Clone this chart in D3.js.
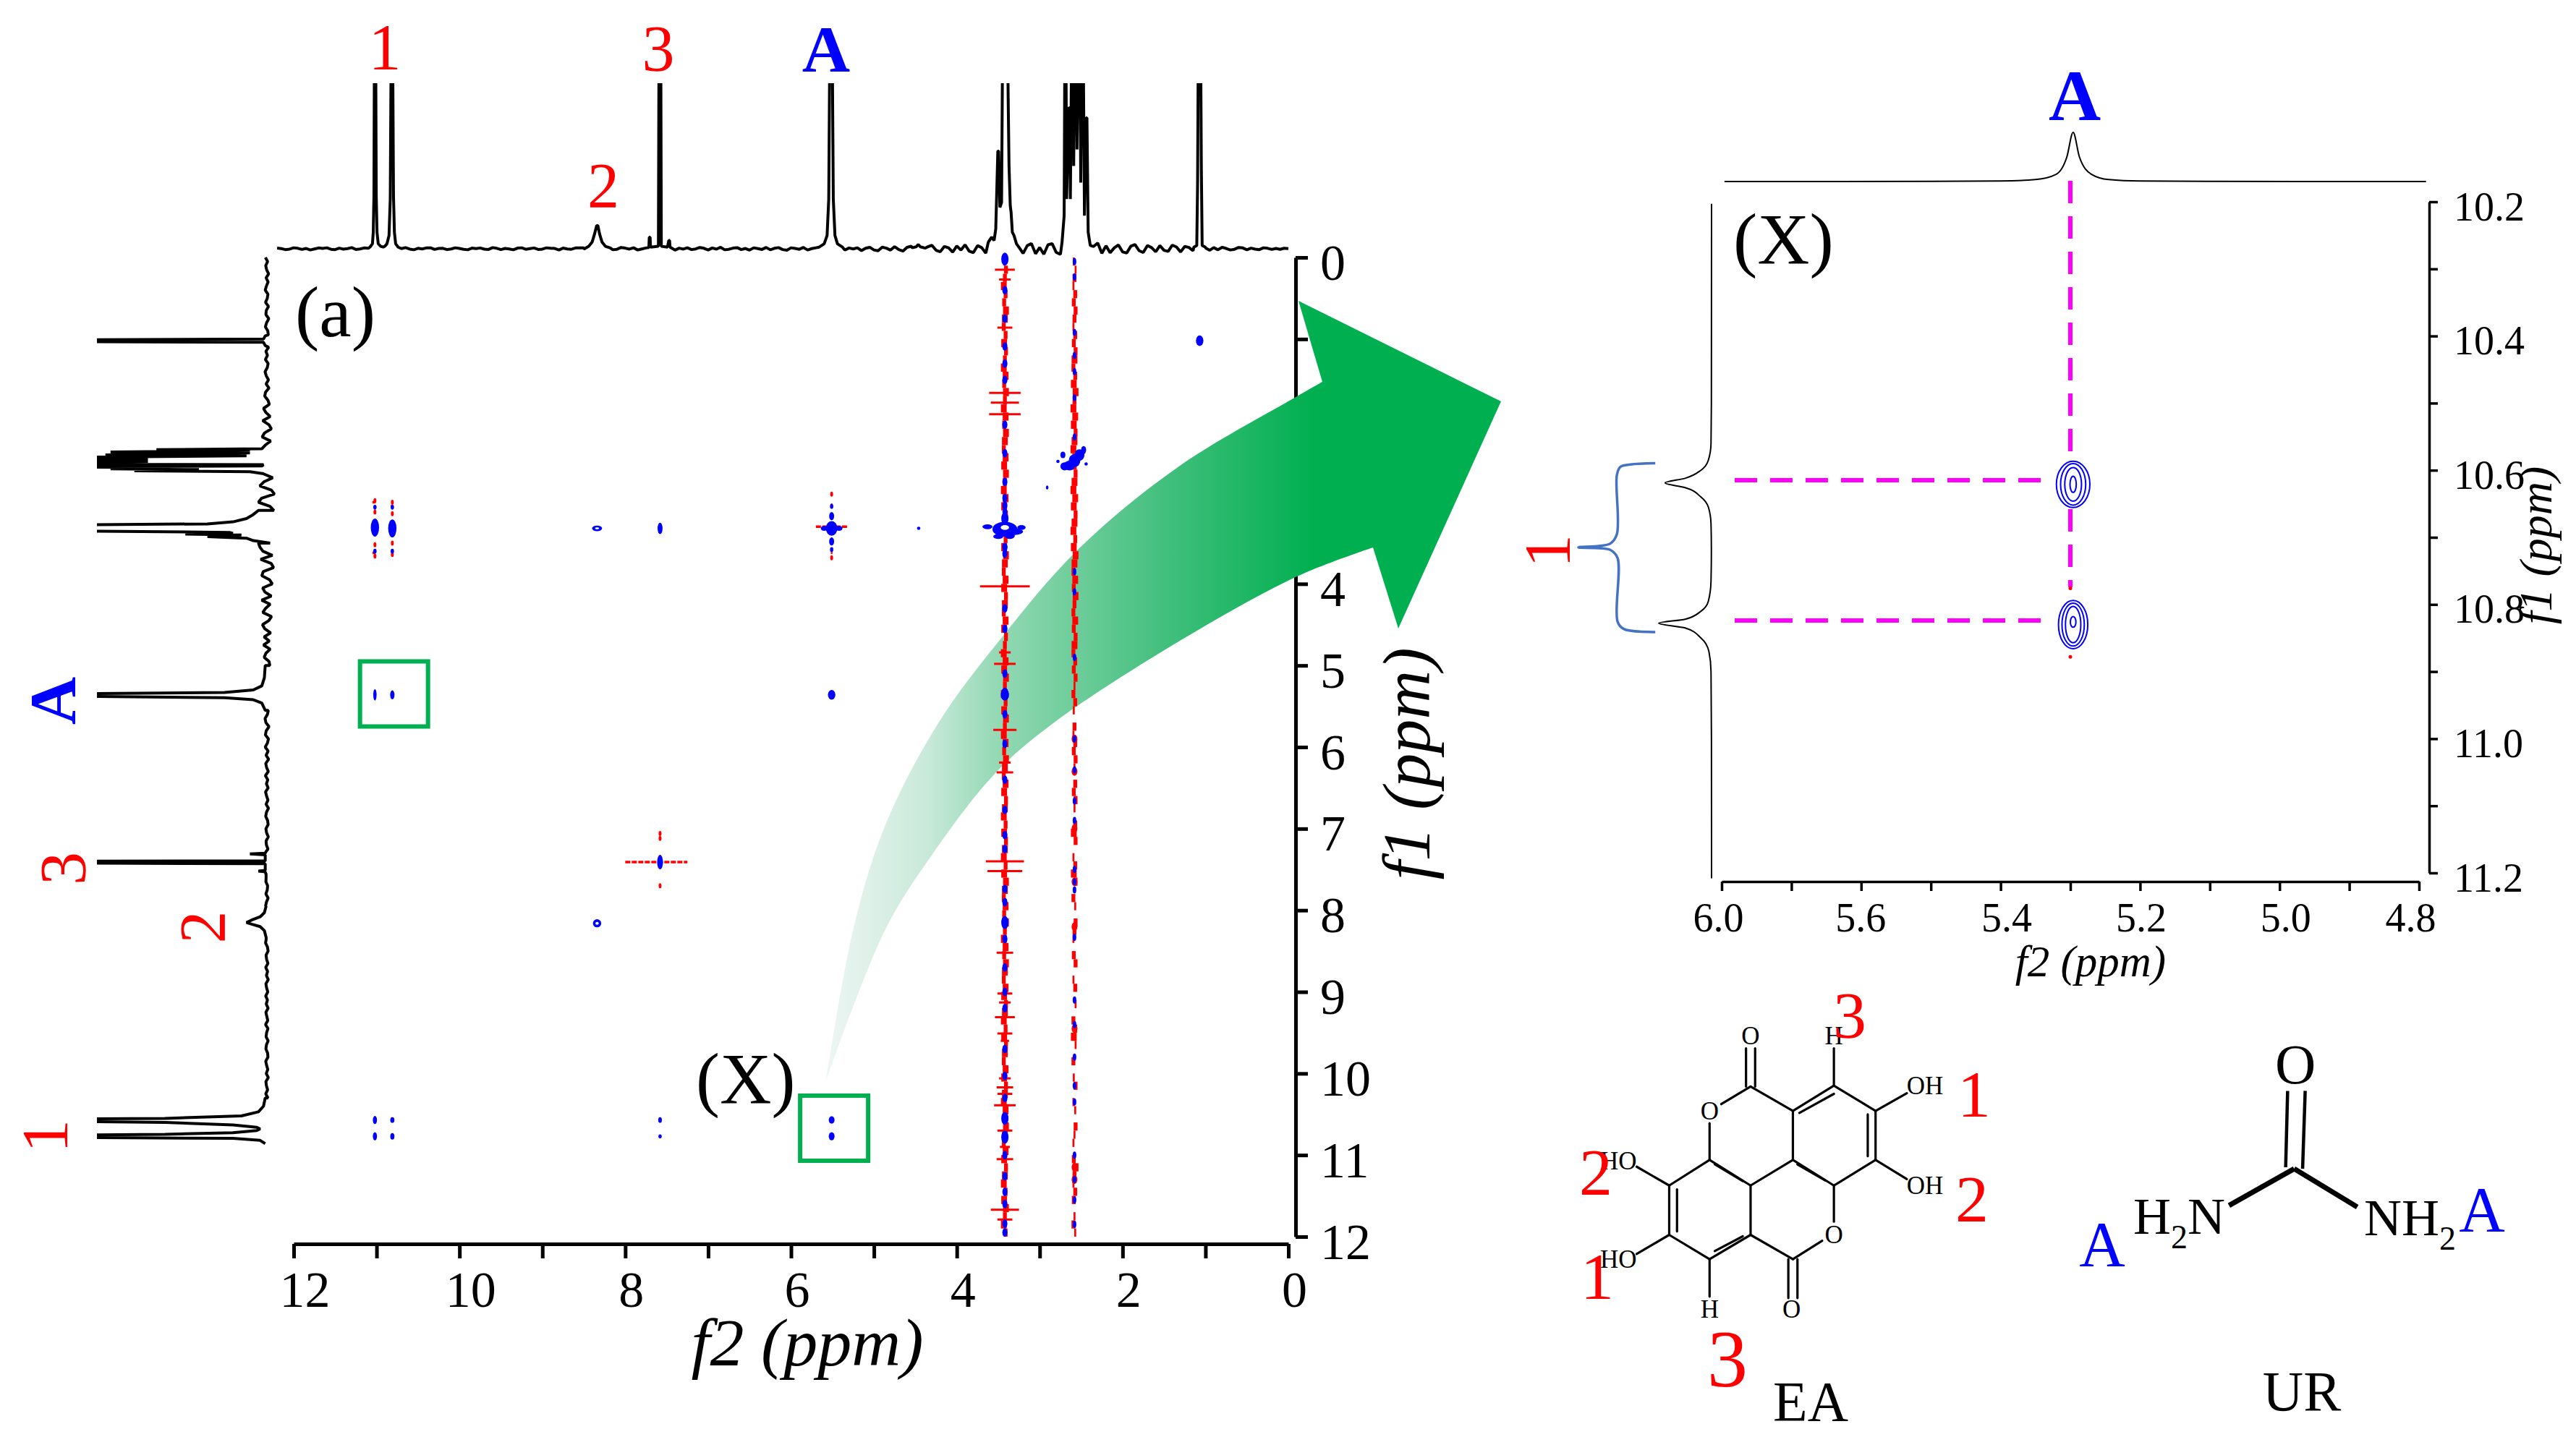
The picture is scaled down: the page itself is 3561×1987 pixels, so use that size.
<!DOCTYPE html>
<html>
<head>
<meta charset="utf-8">
<script src="https://d3js.org/d3.v7.min.js"></script>
<style>
body { margin: 0; background: #fff; }
text { font-family: "Liberation Serif", serif; }
</style>
</head>
<body>
<script>
// main COSY panel ticks
const f2Ticks = [12, 11, 10, 9, 8, 7, 6, 5, 4, 3, 2, 1, 0]
const f1Ticks = [0, 1, 2, 3, 4, 5, 6, 7, 8, 9, 10, 11, 12]

// inset panel ticks, the printed labels skip 5.8 and read 6.0 there
const insetF2Ticks = [5.8, 5.7, 5.6, 5.5, 5.4, 5.3, 5.2, 5.1, 5.0, 4.9, 4.8]
const insetF2Labels = ['6.0', '', '5.6', '', '5.4', '', '5.2', '', '5.0', '', '4.8']
const insetF1Ticks = [10.2, 10.3, 10.4, 10.5, 10.6, 10.7, 10.8, 10.9, 11.0, 11.1, 11.2]
const insetF1Labels = ['10.2', '', '10.4', '', '10.6', '', '10.8', '', '11.0', '', '11.2']

// top 1D trace: baseline noise every 0.05 ppm starting at 12.2 ppm
const topNoiseStart = 12.2
const topNoise = [0.4,0.1,-0.5,-0.2,0.6,0.3,-0.4,0.2,-0.7,-0.1,0.5,0.2,0.6,-0.3,-0.5,0.4,-0.2,0.1,0.7,-0.4,
-0.1,0.5,0.3,-0.6,-0.2,0.2,0.6,0.4,-0.5,-0.3,0.1,0.7,-0.2,-0.6,0.3,-0.1,0.5,0.6,-0.4,0.2,
0.3,-0.5,-0.1,0.6,0.2,-0.3,-0.6,0.4,0.1,0.5,-0.2,-0.4,0.7,0.3,-0.5,0.2,-0.1,-0.6,0.4,0.6,
-0.3,0.1,0.5,-0.4,-0.2,0.6,0.3,0.2,-0.7,0.4,-0.1,-0.3,0.5,0.6,-0.2,0.1,-0.5,0.3,0.7,-0.4,
0.2,-0.6,-0.3,0.8,0.4,-0.2,0.6,-0.7,-0.1,0.5,0.9,-0.4,-0.6,0.3,0.7,0.1,-0.8,0.4,-0.2,0.6,
-0.5,-0.1,0.8,0.3,-0.7,0.5,-0.2,0.9,-0.6,-0.3,0.4,0.7,-0.5,0.2,-0.8,0.6,0.1,-0.4,0.8,-0.6,
0.3,0.7,-0.5,-0.9,0.6,0.2,-0.3,0.8,-0.7,0.1,0.6,-0.4,0.9,0.3,-0.6,-0.2,0.7,-0.8,0.5,-0.1,
0.6,-1.1,0.3,0.9,-0.7,-1.2,1.0,0.4,-0.8,1.3,-0.5,-1.4,0.9,1.5,-1.0,0.3,-1.6,1.2,2.1,-0.9,
-1.8,1.4,0.6,-2.0,1.7,-0.8,2.4,-1.5,-2.3,1.9,0.7,-2.6,2.8,-1.2,1.6,-3.0,2.2,-2.4,3.0,0.9,
-2.8,1.9,3.2,-3.0,0.8,-3.3,2.4,3.1,-2.2,-3.4,2.9,0.7,-2.9,3.3,-1.8,2.6,-3.1,1.4,3.5,-2.7,
1.8,-2.4,0.6,2.3,-1.9,-2.5,1.6,2.6,-1.2,-2.2,2.0,0.7,-1.8,1.9,-0.9,-1.6,2.2,1.1,-1.9,1.4,
0.8,-1.2,-0.4,1.0,0.5,-0.9,0.7,-0.6,0.9,0.2,-0.7,-0.3,0.8,0.5,-0.6,0.4,-0.2,-0.5,0.6,0.3,-0.4,0.2,-0.3,0.3,0.1]

// top 1D trace: hand read peak outlines as [ppm, intensity], clipped at 100
const topPeaks = [
  [[11.08,1],[11.05,3],[11.04,10],[11.032,32],[11.025,140],[11.012,140],[11.004,32],[10.995,10],[10.98,3],[10.95,1.5],[10.92,1],[10.90,1.5],[10.875,3],[10.85,8],[10.835,30],[10.822,140],[10.808,140],[10.796,32],[10.785,10],[10.77,3],[10.74,1]],
  [[8.50,0.5],[8.44,1.5],[8.40,4],[8.37,9],[8.345,14],[8.33,14],[8.31,9],[8.28,4],[8.24,1.5],[8.18,0.5]],
  [[7.74,0.6],[7.715,0.8],[7.71,7],[7.70,7],[7.695,1],[7.60,1.5],[7.592,140],[7.572,140],[7.565,1.5],[7.49,1],[7.475,5],[7.465,5],[7.46,1],[7.44,0.4]],
  [[5.66,1],[5.60,3],[5.565,8],[5.545,30],[5.53,140],[5.505,140],[5.49,30],[5.47,8],[5.44,3],[5.38,1]],
  [[4.54,0.6],[4.49,1.2],[4.465,2.6],[4.44,1.2],[4.38,0.4]],
  [[3.62,4],[3.58,7],[3.55,5],[3.53,12],[3.505,59],[3.495,59],[3.48,25],[3.46,28],[3.445,140],[3.435,300],[3.417,600],[3.40,300],[3.39,140],[3.38,90],[3.37,50],[3.355,26],[3.345,22],[3.33,10],[3.31,8],[3.28,3]],
  [[2.73,4],[2.705,20],[2.695,140],[2.685,140],[2.675,30],[2.65,85],[2.64,85],[2.63,30],[2.612,140],[2.602,140],[2.59,50],[2.575,140],[2.56,140],[2.55,60],[2.525,140],[2.515,140],[2.505,40],[2.487,140],[2.477,140],[2.46,20],[2.44,79],[2.43,79],[2.415,10],[2.39,2]],
  [[1.14,1],[1.105,2],[1.095,40],[1.085,140],[1.06,140],[1.05,50],[1.04,2],[1.0,1]]
]

// left 1D trace: baseline noise every 0.05 ppm starting at 0 ppm
const leftNoiseStart = 0
const leftNoise = [0.9,-0.4,0.7,0.2,-1.0,0.5,-0.7,0.3,1.0,-0.6,-0.2,0.8,-0.9,0.4,0.6,-1.1,0.2,0.9,-0.5,-0.8,
0.7,0.3,-1.0,0.6,-0.3,0.9,-0.7,-0.2,1.1,0.4,-0.9,0.5,-1.2,0.8,1.3,-0.6,-1.4,2.0,0.6,-1.9,2.5,-1.2,-2.6,1.4,2.8,-2.2,
0.9,-0.5,0.8,0.3,-1.1,0.7,-1.6,2.2,-3.4,1.8,4.2,-2.6,-4.4,3.1,5.0,-1.8,-4.1,3.6,-2.9,4.4,-4.8,1.6,3.3,-3.7,-1.9,4.1,2.4,-3.2,3.7,-2.5,-3.9,2.2,
3.0,-1.6,-3.1,2.5,1.2,-2.6,3.1,-1.9,0.8,2.4,-2.7,-1.1,2.6,1.3,-2.2,1.7,-1.4,2.0,-1.9,0.6,1.6,-1.2,-1.7,1.3,0.5,-1.5,
1.2,-0.6,-1.3,0.9,0.3,-1.0,1.3,-0.8,-0.3,1.1,0.6,-1.2,0.4,0.9,-0.9,-0.3,1.0,-0.7,0.5,-1.0,0.7,0.2,-0.8,0.9,-0.5,0.3,
-0.7,0.8,0.2,-0.6,0.5,-0.9,0.3,0.7,-0.4,-0.7,0.6,0.2,-0.8,0.5,0.3,-0.6,0.8,-0.3,-0.5,0.7,0.1,-0.7,0.5,0.6,-0.4,-0.2,
0.6,-0.7,0.3,0.8,-0.5,-0.2,0.5,-0.8,0.7,0.1,-0.6,0.4,0.8,-0.3,-0.7,0.5,0.2,-0.6,0.7,-0.4,0.3,-0.8,0.6,0.2,-0.5,0.7,
-0.3,0.4,-0.7,0.6,0.1,-0.5,0.8,-0.6,0.2,0.5,-0.7,0.3,0.6,-0.4,-0.6,0.7,0.2,-0.5,0.4,-0.8,0.6,0.3,-0.4,0.7,-0.6,0.1,
-0.5,0.7,0.2,-0.6,0.5,-0.3,-0.7,0.6,0.3,-0.4]

// left 1D trace: hand read peak outlines as [ppm, intensity]
const leftPeaks = [
  [[0.96,1],[1.0,2],[1.012,140],[1.03,140],[1.04,2],[1.08,1]],
  [[2.30,1],[2.345,3],[2.355,65],[2.365,10],[2.385,92],[2.395,10],[2.42,95],[2.43,12],[2.455,140],[2.47,70],[2.485,140],[2.50,70],[2.515,140],[2.53,140],[2.54,2],[2.555,3],[2.565,140],[2.575,60],[2.59,92],[2.60,40],[2.615,78],[2.625,10],[2.65,2]],
  [[3.10,5],[3.15,8],[3.2,12],[3.24,20],[3.265,35],[3.28,140],[3.29,300],[3.31,500],[3.33,300],[3.345,140],[3.37,22],[3.38,20],[3.39,48],[3.40,15],[3.42,35],[3.44,12],[3.47,8],[3.5,5]],
  [[5.0,1],[5.15,1.5],[5.25,3],[5.30,8],[5.33,25],[5.345,100],[5.355,300],[5.37,300],[5.38,100],[5.395,25],[5.42,8],[5.46,3],[5.55,1]],
  [[7.28,0.5],[7.30,1],[7.31,10],[7.32,1],[7.395,1],[7.40,140],[7.42,140],[7.43,1],[7.51,1],[7.52,5],[7.53,1],[7.56,0.5]],
  [[7.95,0.5],[8.03,1.5],[8.08,4],[8.12,9],[8.15,12],[8.17,9],[8.20,4],[8.25,1.5],[8.33,0.5]],
  [[10.3,1],[10.4,2],[10.47,5],[10.52,15],[10.55,60],[10.56,140],[10.58,140],[10.6,60],[10.63,20],[10.66,6],[10.68,4],[10.70,6],[10.725,20],[10.745,60],[10.76,140],[10.78,140],[10.795,20],[10.82,4],[10.86,1]]
]

// cross peaks: position and half extents, ppm
const crossF2 = [11.02,10.81,8.34,7.58,5.51,4.46,3.42, 11.02,10.81,5.51,3.42, 1.07, 7.58, 8.34, 11.02,10.81,7.58,5.51, 11.02,10.81,7.58,5.51, 2.70,2.64,2.58,2.52,2.47,2.72,2.91,11.02,11.02,10.81,10.81,5.51,5.51, 3.63,3.3,3.22,3.5,3.36,3.42,3.42, 2.78,2.44, 5.51,5.51,5.6,5.42]
const crossF1 = [3.31,3.32,3.32,3.32,3.32,3.32,3.33, 5.36,5.36,5.36,5.36, 1.02, 7.41, 8.16, 10.57,10.57,10.57,10.57, 10.77,10.77,10.77,10.77, 2.56,2.55,2.49,2.42,2.36,2.42,2.82,3.06,3.6,3.06,3.6,3.05,3.58, 3.3,3.36,3.31,3.42,3.41,3.55,3.12, 2.5,2.53, 3.17,3.48,3.32,3.32]
const crossW = [0.05,0.05,0.06,0.03,0.07,0.02,0.15, 0.02,0.026,0.045,0.05, 0.045, 0.035, 0.05, 0.025,0.025,0.022,0.035, 0.025,0.025,0.02,0.035, 0.05,0.07,0.07,0.06,0.03,0.03,0.015,0.02,0.02,0.02,0.02,0.02,0.02, 0.06,0.1,0.05,0.06,0.06,0.03,0.03, 0.02,0.02, 0.03,0.03,0.04,0.04]
const crossH = [0.11,0.11,0.035,0.07,0.09,0.02,0.09, 0.07,0.055,0.06,0.07, 0.065, 0.09, 0.05, 0.05,0.035,0.035,0.045, 0.05,0.04,0.025,0.05, 0.05,0.06,0.08,0.07,0.05,0.04,0.025,0.03,0.03,0.03,0.03,0.03,0.03, 0.03,0.04,0.03,0.03,0.04,0.05,0.05, 0.02,0.02, 0.05,0.05,0.03,0.03]

// open centres of the ring shaped peaks
const holeF2 = [3.42, 8.34, 8.34]
const holeF1 = [3.31, 3.32, 8.16]
const holeW = [0.05, 0.025, 0.02]
const holeH = [0.03, 0.012, 0.018]

// red t1 noise bars next to the diagonal peaks
const redBarF2From = [5.70,8.0,11.05,11.05,10.83,10.83,5.52,5.52]
const redBarF2To = [5.32,7.25,11.0,11.0,10.79,10.79,5.5,5.5]
const redBarF1 = [3.30,7.41,3.0,3.62,3.05,3.6,3.03,3.62]
const redDotF2 = [11.02,11.02,11.02,11.02,10.81,10.81,10.81,10.81,5.51,5.51,7.58,7.58,7.58]
const redDotF1 = [2.98,3.12,3.52,3.66,3.0,3.14,3.5,3.64,3.68,2.9,7.06,7.12,7.7]

// solvent streak at 3.42 ppm, red level for each 0.1 ppm from f1 = 0
const streakAF2 = 3.42
const streakARed = [1,2,2,3,2,2,3,3,2,2,3,2,2,3,3,2,3,2,3,3,2,3,3,2,3,3,3,2,3,3,3,2,2,3,2,3,3,3,2,3,3,2,3,2,3,3,2,2,3,3,
3,3,2,3,2,3,3,2,3,3,2,3,3,2,3,3,2,3,3,2,3,2,3,3,2,3,3,3,2,3,2,3,2,3,3,2,3,3,2,3,3,2,3,3,2,3,2,3,2,3,3,2,3,3,3,2,3,3,2,3,3,2,3,3,2,3,3,2,3,2]
const streakABlue = [0.01,0.4,0.75,1.09,1.3,1.5,2.05,2.4,2.75,2.95,3.04,3.55,3.63,4.3,4.55,5.1,5.6,5.96,6.4,6.77,7.08,7.25,7.74,7.9,8.35,8.7,9.0,9.2,9.7,10.03,10.3,11.0,11.26,11.45,11.6,11.84,11.95]
const streakABlueBig = [0.02,3.2,5.35,8.15,10.55,10.78]
const barF1 = [0.15,0.27,0.86,1.66,1.78,1.92,4.03,4.84,4.98,5.79,6.19,6.31,7.40,7.52,8.52,9.02,9.13,9.31,9.51,9.6,10.06,10.17,10.25,10.39,10.7,10.9,11.05,11.67,11.79]
const barHalf = [0.12,0.07,0.09,0.19,0.17,0.19,0.3,0.07,0.13,0.14,0.07,0.1,0.23,0.21,0.1,0.09,0.07,0.12,0.09,0.05,0.07,0.1,0.09,0.13,0.09,0.06,0.1,0.17,0.09]

// solvent streak at 2.58 ppm
const streakBF2 = 2.58
const streakBRed = [1,1,2,1,2,2,2,2,1,2,2,2,3,2,2,3,3,2,3,3,3,2,3,3,3,3,2,3,3,3,3,2,3,3,2,3,3,3,2,3,2,3,2,2,3,2,2,3,2,2,
2,2,1,2,2,1,0,2,1,2,2,2,1,0,2,2,2,1,0,2,3,2,0,1,2,3,2,0,2,1,0,2,2,1,0,2,2,0,1,2,0,1,0,2,2,3,1,0,2,0,1,2,0,1,1,0,2,1,1,0,2,3,2,1,2,2,0,1,2,1]
const streakBBlue = [0.05,0.24,0.92,1.2,1.4,1.72,2.2,3.85,4.1,4.9,5.9,6.28,6.66,6.9,7.5,7.65,7.75,8.33,9.1,9.4,9.8,10.15,10.35,11,11.3,11.55,11.85]
const streakBRedDot = [5.9,6.3,7.0,7.65,8.2,9.45,11.15,11.3]

// inset traces as [ppm, intensity]
const insetTop = [[5.796,0],[5.5,0.2],[5.4,1],[5.35,4],[5.32,15],[5.305,50],[5.296,100],[5.287,50],[5.27,15],[5.245,4],[5.2,1],[5.1,0.3],[4.79,0]]
const insetLeft = [[10.203,0],[10.5,0.3],[10.56,1],[10.585,6],[10.60,20],[10.612,50],[10.619,88],[10.626,50],[10.64,20],[10.655,6],[10.68,1],[10.72,0.3],[10.765,1],[10.795,6],[10.81,20],[10.822,50],[10.828,100],[10.835,50],[10.85,20],[10.87,5],[10.9,1],[11.0,0.2],[11.208,0]]

// inset contour levels: centre and half extents, ppm
const contourF2 = [5.296,5.296,5.296,5.296,5.296,5.296,5.296,5.296]
const contourF1 = [10.621,10.621,10.621,10.621,10.83,10.83,10.83,10.826]
const contourW = [0.024,0.018,0.012,0.0045,0.021,0.016,0.011,0.004]
const contourH = [0.0345,0.031,0.025,0.012,0.036,0.032,0.027,0.008]

const w = 3561
const h = 1987

const svg = d3.select('body').append('svg').attr('width', w).attr('height', h)
  .style('display', 'block')
const defs = svg.append('defs')

const x = d3.scaleLinear().domain([12, 0]).range([406, 1781])
const y = d3.scaleLinear().domain([0, 12]).range([356, 1710])
const topI = d3.scaleLinear().domain([0, 100]).range([344, 115])
const leftI = d3.scaleLinear().domain([0, 100]).range([369, 134])

const x2 = d3.scaleLinear().domain([5.8, 4.8]).range([2380, 3344])
const y2 = d3.scaleLinear().domain([10.2, 11.2]).range([279, 1207])
const topI2 = d3.scaleLinear().domain([0, 100]).range([251, 183])
const leftI2 = d3.scaleLinear().domain([0, 100]).range([2366, 2293])

function styleAxis(g, sw, size) {
  g.selectAll('path,line').attr('stroke', '#000').attr('stroke-width', sw)
  g.selectAll('text').attr('fill', '#000').style('font-size', size + 'px')
    .style('font-family', '"Liberation Serif", serif')
}

// axes go first, the big arrow covers part of the f1 axis
const xAxis = d3.axisBottom(x).tickValues(f2Ticks).tickSize(20).tickSizeOuter(0)
  .tickFormat(d => d % 2 == 0 ? d : '')
const gx = svg.append('g').attr('transform', 'translate(0,1720)').call(xAxis)
styleAxis(gx, 5, 70)
gx.selectAll('text').attr('dy', 0).attr('y', 87).attr('x', d => d >= 10 ? 15 : 8)

const yAxis = d3.axisRight(y).tickValues(f1Ticks).tickSize(17).tickSizeOuter(0)
const gy = svg.append('g').attr('transform', 'translate(1791,0)').call(yAxis)
styleAxis(gy, 5, 70)
gy.selectAll('text').attr('dy', 0).attr('x', 34).attr('y', 30)

svg.append('text').text('f2 (ppm)').attr('x', 1116).attr('y', 1888)
  .attr('text-anchor', 'middle').style('font-size', '94px').style('font-style', 'italic')
svg.append('text').text('f1 (ppm)').attr('transform', 'translate(1976,1056) rotate(-90)')
  .attr('text-anchor', 'middle').style('font-size', '94px').style('font-style', 'italic')

// 1D traces
function traceData(noise, start, step, peaks) {
  const inPeak = p => peaks.some(s => p > d3.min(s, d => d[0]) && p < d3.max(s, d => d[0]))
  const base = noise.map((v, i) => [start + step * i, v]).filter(d => !inPeak(d[0]))
  return d3.merge([base, d3.merge(peaks)]).sort((a, b) => a[0] - b[0])
}

defs.append('clipPath').attr('id', 'clipTop').append('rect')
  .attr('x', 375).attr('y', 115).attr('width', 1410).attr('height', 245)
defs.append('clipPath').attr('id', 'clipLeft').append('rect')
  .attr('x', 134).attr('y', 350).attr('width', 260).attr('height', 1352)

const topLine = d3.line().x(d => x(d[0])).y(d => topI(d[1]))
svg.append('path').attr('d', topLine(traceData(topNoise, topNoiseStart, -0.05, topPeaks)))
  .attr('clip-path', 'url(#clipTop)').attr('fill', 'none').attr('stroke', '#000')
  .attr('stroke-width', 4).attr('stroke-linejoin', 'bevel')

const leftLine = d3.line().x(d => leftI(d[1])).y(d => y(d[0]))
svg.append('path').attr('d', leftLine(traceData(leftNoise, leftNoiseStart, 0.05, leftPeaks)))
  .attr('clip-path', 'url(#clipLeft)').attr('fill', 'none').attr('stroke', '#000')
  .attr('stroke-width', 4).attr('stroke-linejoin', 'bevel')

// green arrow, fades out towards the small box
const grad = defs.append('linearGradient').attr('id', 'arrowFade')
  .attr('gradientUnits', 'userSpaceOnUse')
  .attr('x1', 1142).attr('x2', 1850).attr('y1', 0).attr('y2', 0)
grad.append('stop').attr('offset', 0).attr('stop-color', '#eef6f4')
grad.append('stop').attr('offset', 0.2).attr('stop-color', '#c8e9d9')
grad.append('stop').attr('offset', 0.33).attr('stop-color', '#95d9b5')
grad.append('stop').attr('offset', 0.65).attr('stop-color', '#45c07f')
grad.append('stop').attr('offset', 0.95).attr('stop-color', '#00af50')

const edge = d3.line().curve(d3.curveCatmullRom)
const upperEdge = edge([[1142, 1494], [1179, 1287], [1223, 1143], [1297, 1000], [1386, 880], [1491, 759], [1631, 644], [1793, 548], [1828, 528]])
const lowerEdge = edge([[1898, 757], [1793, 797], [1631, 886], [1456, 1000], [1376, 1069], [1287, 1184], [1223, 1287], [1142, 1494]])
svg.append('path')
  .attr('d', upperEdge + 'L1795,416L2075,555L1933,869' + lowerEdge.replace('M', 'L') + 'Z')
  .attr('fill', 'url(#arrowFade)')

// solvent streaks
const streakWidth = d3.scaleLinear().domain([0, 3]).range([0, 8])
const wobble = [-1, 1.5, 0, -1.5, 1]
function drawStreak(f2, levels) {
  svg.append('g').selectAll('line').data(levels).enter().append('line')
    .attr('x1', (d, i) => x(f2) + wobble[i % 5]).attr('x2', (d, i) => x(f2) + wobble[i % 5])
    .attr('y1', (d, i) => y(i * 0.1)).attr('y2', (d, i) => y((i + 1) * 0.1))
    .attr('stroke', '#f00').attr('stroke-width', d => streakWidth(d))
}
function drawDots(f2, values, rw, rh, col) {
  svg.append('g').selectAll('ellipse').data(values).enter().append('ellipse')
    .attr('cx', x(f2)).attr('cy', d => y(d)).attr('rx', rw).attr('ry', rh).attr('fill', col)
}
drawStreak(streakAF2, streakARed)
svg.append('g').selectAll('line').data(barF1).enter().append('line')
  .attr('x1', (d, i) => x(streakAF2 + barHalf[i])).attr('x2', (d, i) => x(streakAF2 - barHalf[i]))
  .attr('y1', d => y(d)).attr('y2', d => y(d)).attr('stroke', '#f00').attr('stroke-width', 3)
drawDots(streakAF2, streakABlue, 3.5, 6, '#00f')
drawDots(streakAF2, streakABlueBig, 5, 9, '#00f')
drawStreak(streakBF2, streakBRed)
drawDots(streakBF2, streakBRedDot, 4, 6, '#f00')
drawDots(streakBF2, streakBBlue, 2.5, 5, '#00f')

// red bars then the blue peaks on top
svg.append('g').selectAll('line').data(redBarF1).enter().append('line')
  .attr('x1', (d, i) => x(redBarF2From[i])).attr('x2', (d, i) => x(redBarF2To[i]))
  .attr('y1', d => y(d)).attr('y2', d => y(d))
  .attr('stroke', '#f00').attr('stroke-width', 3.5).attr('stroke-dasharray', (d, i) => i < 2 ? '7 2' : '4 3')
svg.append('g').selectAll('circle').data(redDotF2).enter().append('ellipse')
  .attr('cx', d => x(d)).attr('cy', (d, i) => y(redDotF1[i])).attr('rx', 2).attr('ry', 3.5).attr('fill', '#f00')
svg.append('g').selectAll('ellipse').data(crossF2).enter().append('ellipse')
  .attr('cx', d => x(d)).attr('cy', (d, i) => y(crossF1[i]))
  .attr('rx', (d, i) => crossW[i] * 114.6).attr('ry', (d, i) => crossH[i] * 112.8)
  .attr('fill', '#00f')
svg.append('g').selectAll('ellipse').data(holeF2).enter().append('ellipse')
  .attr('cx', d => x(d)).attr('cy', (d, i) => y(holeF1[i]))
  .attr('rx', (d, i) => holeW[i] * 114.6).attr('ry', (d, i) => holeH[i] * 112.8)
  .attr('fill', '#fff')

// boxes that mark the region of interest
const boxF2 = [11.2, 5.89]
const boxF1 = [4.95, 10.272]
boxF2.forEach((d, i) => {
  svg.append('rect').attr('x', x(d)).attr('y', y(boxF1[i])).attr('width', 94).attr('height', 90)
    .attr('fill', 'none').attr('stroke', '#00b050').attr('stroke-width', 6)
})

const labels = [
  ['(a)', 408, 465, 100, '#000'], ['(X)', 962, 1525, 99, '#000'], ['(X)', 2396, 364, 100, '#000']
]
labels.forEach(d => {
  svg.append('text').text(d[0]).attr('x', d[1]).attr('y', d[2])
    .style('font-size', d[3] + 'px').attr('fill', d[4])
})

function mark(txt, px, py, size, col, bold, rot) {
  svg.append('text').text(txt)
    .attr('transform', 'translate(' + px + ',' + py + ')' + (rot ? ' rotate(-90)' : ''))
    .attr('text-anchor', 'middle').attr('fill', col)
    .style('font-size', size + 'px').style('font-weight', bold ? 'bold' : 'normal')
}
mark('1', 532, 96, 90, '#f00')
mark('3', 910, 98, 90, '#f00')
mark('2', 834, 286, 88, '#f00')
mark('A', 1142, 99, 92, '#00f', true)
mark('A', 104, 969, 92, '#00f', true, true)
mark('3', 118, 1201, 92, '#f00', false, true)
mark('2', 311, 1282, 90, '#f00', false, true)
mark('1', 93, 1571, 92, '#f00', false, true)

// inset axes
const x2Axis = d3.axisBottom(x2).tickValues(insetF2Ticks).tickSize(13).tickSizeOuter(0)
  .tickFormat((d, i) => insetF2Labels[i])
const gx2 = svg.append('g').attr('transform', 'translate(0,1219)').call(x2Axis)
styleAxis(gx2, 3.5, 56)
const x2Shift = [-5, 0, -1, 0, 8, 0, 1, 0, 8, 0, -12]
gx2.selectAll('text').attr('dy', 0).attr('y', 69).attr('x', (d, i) => x2Shift[i])

const y2Axis = d3.axisRight(y2).tickValues(insetF1Ticks).tickSize(12).tickSizeOuter(0)
  .tickFormat((d, i) => insetF1Labels[i])
const gy2 = svg.append('g').attr('transform', 'translate(3358,0)').call(y2Axis)
styleAxis(gy2, 3.5, 56)
gy2.selectAll('text').attr('dy', 0).attr('x', 34).attr('y', 25)

svg.append('text').text('f2 (ppm)').attr('x', 2890).attr('y', 1350)
  .attr('text-anchor', 'middle').style('font-size', '61px').style('font-style', 'italic')
svg.append('text').text('f1 (ppm)').attr('transform', 'translate(3527,754) rotate(-90)')
  .attr('text-anchor', 'middle').style('font-size', '64px').style('font-style', 'italic')

svg.append('path')
  .attr('d', d3.line().curve(d3.curveMonotoneX).x(d => x2(d[0])).y(d => topI2(d[1]))(insetTop.slice().reverse()))
  .attr('fill', 'none').attr('stroke', '#000').attr('stroke-width', 2)
svg.append('path')
  .attr('d', d3.line().curve(d3.curveMonotoneY).x(d => leftI2(d[1])).y(d => y2(d[0]))(insetLeft))
  .attr('fill', 'none').attr('stroke', '#000').attr('stroke-width', 2)

// magenta guides sit under the contours
const guideF2 = 5.3
const guideF1 = [10.615, 10.824]
const guide = svg.append('g').attr('stroke', '#f0f').attr('stroke-width', 6).attr('stroke-dasharray', '31 18')
guide.append('line').attr('x1', x2(guideF2)).attr('x2', x2(guideF2)).attr('y1', 250).attr('y2', 640)
guide.append('line').attr('x1', x2(guideF2)).attr('x2', x2(guideF2)).attr('y1', 704).attr('y2', 812)
guideF1.forEach(d => {
  guide.append('line').attr('x1', 2398).attr('x2', 2825).attr('y1', y2(d)).attr('y2', y2(d))
})
svg.append('circle').attr('cx', x2(5.3)).attr('cy', y2(10.776)).attr('r', 2.5).attr('fill', '#f00')
svg.append('circle').attr('cx', x2(5.3)).attr('cy', y2(10.878)).attr('r', 2.5).attr('fill', '#f00')

svg.append('g').selectAll('ellipse').data(contourF2).enter().append('ellipse')
  .attr('cx', d => x2(d)).attr('cy', (d, i) => y2(contourF1[i]))
  .attr('rx', (d, i) => contourW[i] * 964).attr('ry', (d, i) => contourH[i] * 928)
  .attr('fill', 'none').attr('stroke', '#00f').attr('stroke-width', 2)

// blue brace next to the inset trace
const braceX = d3.scaleLinear().domain([0, 1461 * 1.0732]).range([2100, 3561])
const braceY = d3.scaleLinear().domain([0, 1350 * 1.1615]).range([50, 1400])
const braceLine = d3.line().curve(d3.curveCatmullRom).x(d => braceX(d[0])).y(d => braceY(d[1]))
svg.append('path')
  .attr('d', braceLine([[202, 686], [165, 688], [150, 692], [145, 705], [145, 800], [135, 815], [88, 821], [135, 825], [146, 838], [146, 940], [155, 952], [202, 957]]))
  .attr('fill', 'none').attr('stroke', '#4472c4').attr('stroke-width', 3.5)

mark('A', 2868, 166, 100, '#00f', true)
mark('1', 2170, 762, 92, '#f00', false, true)

// chemical structures, drawn in the coordinates of the crop
const mx = d3.scaleLinear().domain([0, 1568]).range([2150, 3561])
const my = d3.scaleLinear().domain([0, 1568]).range([1350, 1987])
const bonds = [
  [300,375,365,458],[365,458,428,372],[428,372,492,458],[492,458,492,625],[492,625,428,712],
  [428,712,365,625],[365,625,365,458],[365,625,300,712],[300,712,237,625],[237,625,237,500],[237,625,175,712],
  [175,712,175,880],[175,880,237,963],[237,963,300,880],[300,880,300,712],[300,880,365,963],[365,963,410,900],
  [428,835,428,712],[300,375,255,435],[428,372,428,245],[492,458,540,398],[492,625,540,690],[175,712,125,648],
  [175,880,125,945],[237,963,237,1090],
  [375,465,428,400],[480,470,480,612],[372,640,415,695],[245,640,288,697],[187,725,187,868],[245,935,288,885],
  [293,375,293,245],[307,375,307,245],[358,963,358,1095],[372,963,372,1095]
]
svg.append('g').selectAll('line').data(bonds).enter().append('line')
  .attr('x1', d => mx(d[0])).attr('y1', d => my(d[1])).attr('x2', d => mx(d[2])).attr('y2', d => my(d[3]))
  .attr('stroke', '#000').attr('stroke-width', 3.2).attr('stroke-linecap', 'round')

const atoms = [['O',300,232],['H',428,232],['O',237,488],['OH',568,400],['OH',568,740],['HO',97,658],['HO',97,992],['H',237,1163],['O',428,908],['O',363,1163]]
atoms.forEach(d => {
  svg.append('text').text(d[0]).attr('x', mx(d[1])).attr('y', my(d[2]))
    .attr('text-anchor', 'middle').style('font-size', '35px')
})

const ureaBonds = [[1125,390,1122,650,4.5],[1152,390,1148,655,4.5],[1135,655,1035,780,7],[1135,655,1232,785,7]]
svg.append('g').selectAll('line').data(ureaBonds).enter().append('line')
  .attr('x1', d => mx(d[0])).attr('y1', d => my(d[1])).attr('x2', d => mx(d[2])).attr('y2', d => my(d[3]))
  .attr('stroke', '#000').attr('stroke-width', d => d[4])

svg.append('text').text('O').attr('x', mx(1137)).attr('y', my(365)).attr('text-anchor', 'middle').style('font-size', '78px')
const h2n = svg.append('text').attr('x', 2949).attr('y', 1706).style('font-size', '72px')
h2n.append('tspan').text('H')
h2n.append('tspan').text('2').attr('dy', 20).style('font-size', '46px')
h2n.append('tspan').text('N').attr('dy', -20)
const nh2 = svg.append('text').attr('x', 3268).attr('y', 1708).style('font-size', '72px')
nh2.append('tspan').text('NH')
nh2.append('tspan').text('2').attr('dy', 20).style('font-size', '46px')

mark('A', 2906, 1750, 88, '#00f')
mark('A', 3431, 1702, 88, '#00f')
mark('EA', 2503, 1964, 78, '#000')
mark('UR', 3182, 1950, 78, '#000')
mark('3', 2557, 1435, 92, '#f00')
mark('1', 2729, 1544, 92, '#f00')
mark('2', 2726, 1689, 92, '#f00')
mark('2', 2206, 1652, 92, '#f00')
mark('1', 2208, 1796, 92, '#f00')
mark('3', 2388, 1917, 112, '#f00')
</script>
</body>
</html>
